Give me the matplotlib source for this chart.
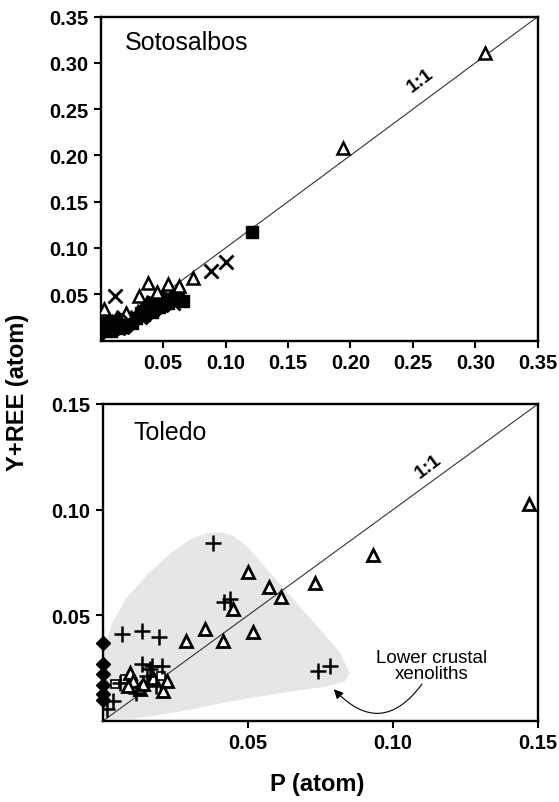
import numpy as np
import matplotlib.pyplot as plt
from matplotlib.patches import Polygon

plt.rcParams['font.family'] = ['Liberation Sans', 'DejaVu Sans']

# --- Sotosalbos (upper panel) ---
sot_tri_x = [0.308, 0.194, 0.074, 0.054, 0.038, 0.063, 0.031, 0.003, 0.045, 0.020]
sot_tri_y = [0.311, 0.208, 0.068, 0.061, 0.062, 0.059, 0.048, 0.034, 0.052, 0.030]
sot_x_x = [0.1006, 0.0887, 0.0113, 0.058, 0.022, 0.009]
sot_x_y = [0.0845, 0.0754, 0.0484, 0.040, 0.022, 0.013]
sot_sq_x = [0.121, 0.066, 0.003, 0.006, 0.008, 0.010, 0.012, 0.015, 0.018, 0.021, 0.025, 0.028,
            0.032, 0.035, 0.038, 0.041, 0.044, 0.047, 0.050, 0.054, 0.058, 0.062]
sot_sq_y = [0.117, 0.043, 0.012, 0.015, 0.010, 0.018, 0.014, 0.020, 0.016, 0.022, 0.019, 0.024,
            0.030, 0.028, 0.034, 0.031, 0.038, 0.036, 0.042, 0.040, 0.045, 0.048]
sot_tf_x = [0.002, 0.005, 0.009, 0.013, 0.017, 0.020, 0.024, 0.030, 0.034, 0.037, 0.040, 0.043,
            0.046, 0.052, 0.056]
sot_tf_y = [0.020, 0.024, 0.022, 0.026, 0.023, 0.018, 0.027, 0.033, 0.038, 0.043, 0.036, 0.044,
            0.040, 0.046, 0.050]
sot_dm_x = [0.001, 0.004, 0.007, 0.011, 0.014, 0.019, 0.022, 0.027, 0.031, 0.036, 0.039, 0.045,
            0.049, 0.053]
sot_dm_y = [0.008, 0.017, 0.013, 0.012, 0.024, 0.013, 0.015, 0.021, 0.026, 0.025, 0.040, 0.033,
            0.047, 0.038]

# --- Toledo (lower panel) ---
tol_tri_x = [0.1470, 0.0930, 0.0731, 0.0612, 0.0572, 0.0501, 0.0449, 0.0518, 0.0412, 0.0353,
             0.0285, 0.0092, 0.0127, 0.0138, 0.0207, 0.0219, 0.0104, 0.0173, 0.0086]
tol_tri_y = [0.1026, 0.0785, 0.0651, 0.0587, 0.0635, 0.0703, 0.0529, 0.0423, 0.0379, 0.0437,
             0.0379, 0.0229, 0.0153, 0.0174, 0.0142, 0.0189, 0.0189, 0.0205, 0.0166]
tol_plus_x = [0.0378, 0.0742, 0.0781, 0.0437, 0.0417, 0.0067, 0.0135, 0.0193, 0.0136, 0.0170,
              0.0205, 0.0035, 0.0012, 0.0150, 0.0058, 0.0115, 0.0184, 0.0161]
tol_plus_y = [0.0842, 0.0237, 0.0261, 0.0576, 0.0561, 0.0411, 0.0426, 0.0395, 0.0268, 0.0260,
              0.0260, 0.0095, 0.0055, 0.0213, 0.0182, 0.0134, 0.0166, 0.0245]
tol_sq_x = [0.0040, 0.0075, 0.0104, 0.0173, 0.0201]
tol_sq_y = [0.0174, 0.0197, 0.0150, 0.0189, 0.0213]
tol_dm_x = [0.0, 0.0, 0.0, 0.0, 0.0, 0.0]
tol_dm_y = [0.037, 0.027, 0.022, 0.017, 0.013, 0.010]

# outline of the lower crustal xenolith field
xen_x = [0.0, 0.0004, 0.0030, 0.0080, 0.0150, 0.0230, 0.0300, 0.0360, 0.0410, 0.0450, 0.0500,
         0.0564, 0.0656, 0.0748, 0.0817, 0.0850, 0.0835, 0.0771, 0.0622, 0.0449, 0.0276, 0.0104,
         0.0]
xen_y = [0.0008, 0.0324, 0.0460, 0.0580, 0.0690, 0.0790, 0.0860, 0.0890, 0.0892, 0.0875, 0.0820,
         0.0720, 0.0576, 0.0434, 0.0324, 0.0229, 0.0189, 0.0163, 0.0134, 0.0095, 0.0047, 0.0011,
         0.0005]

top_ticks = [0.05, 0.10, 0.15, 0.20, 0.25, 0.30, 0.35]
bot_ticks = [0.05, 0.10, 0.15]


def style_axes(ax, lim, ticks):
    ax.set_xlim(0, lim)
    ax.set_ylim(0, lim)
    labels = ['%.2f' % t for t in ticks]
    ax.set_xticks(ticks, labels)
    ax.set_yticks(ticks, labels)
    for s in ax.spines.values():
        s.set_linewidth(1.7)
    ax.tick_params(direction='out', length=5, width=1.5, labelsize=14.5, pad=4)
    for lab in ax.get_xticklabels() + ax.get_yticklabels():
        lab.set_fontweight('bold')
    ax.plot([0, lim], [0, lim], color='#333333', lw=0.8, zorder=1)


fig = plt.figure(figsize=(5.59, 8.03), dpi=100)
ax1 = fig.add_axes([0.1798, 0.5747, 0.7826, 0.4035])
ax2 = fig.add_axes([0.1843, 0.1009, 0.7782, 0.3948])

# upper panel
style_axes(ax1, 0.35, top_ticks)
ax1.plot(sot_dm_x, sot_dm_y, 'D', ms=7, color='black', zorder=3)
ax1.plot(sot_tf_x, sot_tf_y, '^', ms=9, color='black', zorder=3)
ax1.plot(sot_sq_x, sot_sq_y, 's', ms=8, color='black', zorder=3)
ax1.plot(sot_tri_x, sot_tri_y, '^', ms=9, mfc='white', mec='black', mew=1.8, zorder=4)
ax1.plot(sot_x_x, sot_x_y, 'x', ms=10, color='black', mew=2, zorder=4)
ax1.text(0.056, 0.92, 'Sotosalbos', transform=ax1.transAxes, fontsize=18, va='center')
ax1.text(0.2560, 0.281, '1:1', fontsize=14, fontweight='bold', rotation=37,
         ha='center', va='center')

# lower panel
style_axes(ax2, 0.15, bot_ticks)
ax2.add_patch(Polygon(np.column_stack([xen_x, xen_y]), closed=True, facecolor='#e6e6e6',
                      edgecolor='none', zorder=0))
ax2.plot(tol_sq_x, tol_sq_y, 's', ms=6, mfc='white', mec='black', mew=1.2, zorder=3)
ax2.plot(tol_tri_x, tol_tri_y, '^', ms=9, mfc='white', mec='black', mew=2, zorder=4)
ax2.plot(tol_plus_x, tol_plus_y, '+', ms=11, color='black', mew=1.8, zorder=5)
ax2.plot(tol_dm_x, tol_dm_y, 'D', ms=7, color='black', zorder=6, clip_on=False)
ax2.text(0.069, 0.912, 'Toledo', transform=ax2.transAxes, fontsize=18, va='center')
ax2.text(0.1120, 0.1205, '1:1', fontsize=14, fontweight='bold', rotation=37,
         ha='center', va='center')
ax2.text(0.1133, 0.0262, 'Lower crustal\nxenoliths', fontsize=13.5, ha='center', va='center',
         linespacing=0.9)
ax2.annotate('', xy=(0.0796, 0.0150), xytext=(0.1100, 0.0175),
             arrowprops=dict(arrowstyle='-|>', color='black', lw=0.8, mutation_scale=14,
                             connectionstyle='arc3,rad=-0.6', shrinkA=0, shrinkB=0))

fig.text(18 / 559, 1 - 392 / 803, 'Y+REE (atom)', rotation=90, fontsize=17,
         fontweight='bold', ha='center', va='center')
fig.text(317 / 559, 1 - 785 / 803, 'P (atom)', fontsize=17, fontweight='bold',
         ha='center', va='center')

fig.savefig('out.png', dpi=100)
